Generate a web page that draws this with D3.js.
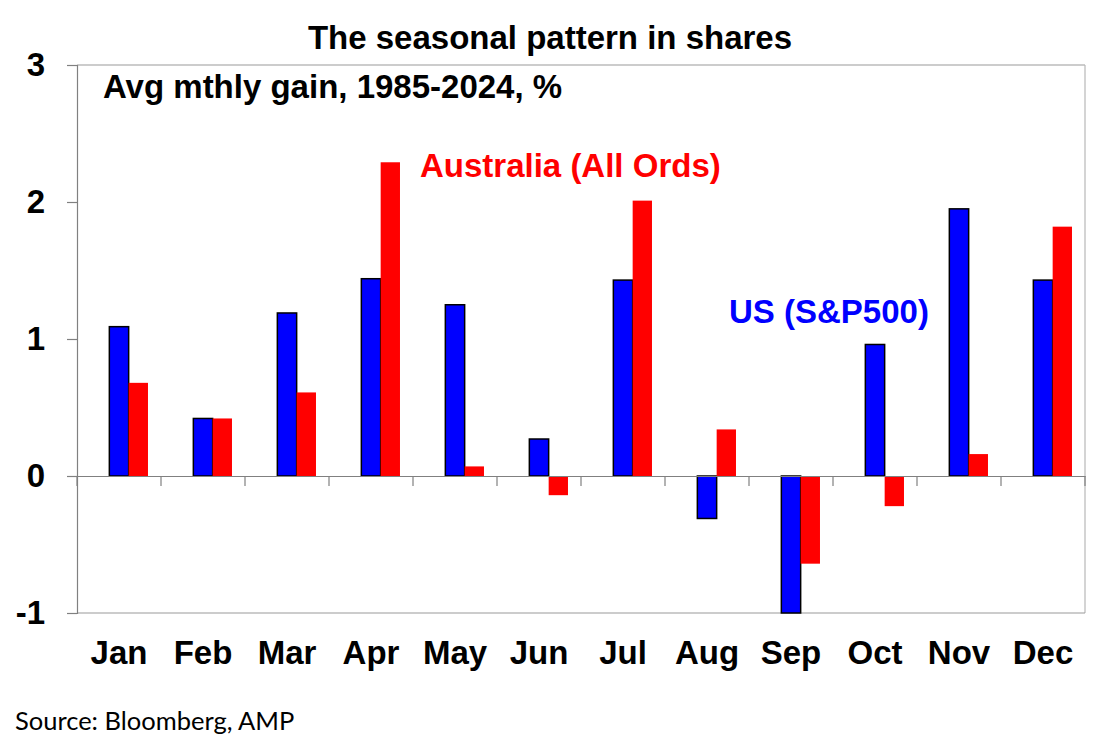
<!DOCTYPE html>
<html>
<head>
<meta charset="utf-8">
<script src="https://cdn.jsdelivr.net/npm/d3@7"></script>
<style>
  body { margin: 0; background: #fff; }
  text { font-family: "Liberation Sans", Arial, sans-serif; font-weight: bold; }
</style>
</head>
<body>
<div id="chart"></div>
<script>
var months = ["Jan", "Feb", "Mar", "Apr", "May", "Jun", "Jul", "Aug", "Sep", "Oct", "Nov", "Dec"];
var usGain = [1.09, 0.42, 1.19, 1.44, 1.25, 0.27, 1.43, -0.31, -1.00, 0.96, 1.95, 1.43];
var ausGain = [0.68, 0.42, 0.61, 2.29, 0.07, -0.14, 2.01, 0.34, -0.64, -0.22, 0.16, 1.82];
var yTicks = [-1, 0, 1, 2, 3];

var svgWidth = 1111;
var svgHeight = 749;
var margin = { top: 65, right: 26, bottom: 136, left: 77 };
var width = svgWidth - margin.left - margin.right;
var height = svgHeight - margin.top - margin.bottom;

var svg = d3.select("#chart")
  .append("svg")
  .attr("width", svgWidth)
  .attr("height", svgHeight);

var chartGroup = svg.append("g")
  .attr("transform", `translate(${margin.left}, ${margin.top})`);

// build rows for the bars
var rows = months.map(function(m, i) {
  return { month: m, values: [
    { key: "US", value: usGain[i] },
    { key: "AUS", value: ausGain[i] }
  ]};
});

var x0 = d3.scaleBand()
  .domain(months)
  .range([0, width])
  .paddingInner(0.31)
  .paddingOuter(0.155);

// the original sheet has an empty first slot in each group
var x1 = d3.scaleBand()
  .domain(["empty", "US", "AUS"])
  .range([0, x0.bandwidth()]);

var y = d3.scaleLinear()
  .domain([-1, 3])
  .range([height, 0]);

var colors = { US: "#0000ff", AUS: "#ff0000" };

// frame: top and right
chartGroup.append("line")
  .attr("x1", 0).attr("x2", width)
  .attr("y1", 0).attr("y2", 0)
  .attr("stroke", "#9a9a9a").attr("stroke-width", 1.2);
chartGroup.append("line")
  .attr("x1", width).attr("x2", width)
  .attr("y1", 0).attr("y2", height)
  .attr("stroke", "#b8b8b8").attr("stroke-width", 1.2);
chartGroup.append("line")
  .attr("x1", 0).attr("x2", width)
  .attr("y1", height).attr("y2", height)
  .attr("stroke", "#9a9a9a").attr("stroke-width", 1.2);

// bars
chartGroup.append("clipPath").attr("id", "plotClip")
  .append("rect").attr("width", width).attr("height", height + 1);

var groups = chartGroup.append("g")
  .attr("clip-path", "url(#plotClip)")
  .selectAll(".month")
  .data(rows)
  .enter()
  .append("g")
  .attr("transform", d => `translate(${x0(d.month)}, 0)`);

groups.selectAll("rect")
  .data(d => d.values)
  .enter()
  .append("rect")
  .attr("x", d => x1(d.key))
  .attr("width", x1.bandwidth())
  .attr("y", d => y(Math.max(0, d.value)))
  .attr("height", d => Math.abs(y(d.value) - y(0)))
  .attr("fill", d => colors[d.key])
  .attr("stroke", d => d.key === "US" ? "#000" : "none")
  .attr("stroke-width", 1.5);

// y axis (plain hyphen for negatives, like the original)
var leftAxis = d3.axisLeft(y).tickValues(yTicks).tickSize(10).tickPadding(22).tickFormat(d => String(d));
var yAxisG = chartGroup.append("g").call(leftAxis);
yAxisG.select(".domain").attr("stroke", "#808080").attr("stroke-width", 1.2);
yAxisG.selectAll(".tick line").attr("stroke", "#808080").attr("stroke-width", 1.2);
yAxisG.selectAll(".tick text")
  .attr("font-size", "33px")
  .attr("font-family", "Liberation Sans, Arial, sans-serif")
  .attr("font-weight", "bold")
  .attr("fill", "#000");

// zero line with category ticks
var bottomAxis = d3.axisBottom(x0).tickSize(0).tickFormat("");
var xAxisG = chartGroup.append("g")
  .attr("transform", `translate(0, ${y(0)})`)
  .call(bottomAxis);
xAxisG.select(".domain").attr("stroke", "#808080").attr("stroke-width", 1.2);
var step = x0.step();
xAxisG.selectAll(".catTick")
  .data(d3.range(months.length + 1))
  .enter()
  .append("line")
  .attr("x1", i => i * step).attr("x2", i => i * step)
  .attr("y1", 0).attr("y2", 10)
  .attr("stroke", "#808080").attr("stroke-width", 1.2);

// month labels
chartGroup.selectAll(".monthLabel")
  .data(months)
  .enter()
  .append("text")
  .attr("x", d => x0(d) + x0.bandwidth() / 2)
  .attr("y", height + 51)
  .attr("text-anchor", "middle")
  .attr("font-size", "33px")
  .text(d => d);

// titles and labels
svg.append("text")
  .attr("x", 550).attr("y", 49)
  .attr("text-anchor", "middle")
  .attr("font-size", "33px")
  .text("The seasonal pattern in shares");

svg.append("text")
  .attr("x", 103).attr("y", 98)
  .attr("font-size", "33px")
  .text("Avg mthly gain, 1985-2024, %");

svg.append("text")
  .attr("x", 420).attr("y", 177)
  .attr("font-size", "33px")
  .attr("fill", "#ff0000")
  .text("Australia (All Ords)");

svg.append("text")
  .attr("x", 729).attr("y", 323)
  .attr("font-size", "33px")
  .attr("fill", "#0000ff")
  .text("US (S&P500)");

svg.append("text")
  .attr("x", 15).attr("y", 730)
  .attr("font-size", "25.5px")
  .style("font-family", "Lato, 'Open Sans', sans-serif")
  .style("font-weight", "normal")
  .text("Source: Bloomberg, AMP");
</script>
</body>
</html>
